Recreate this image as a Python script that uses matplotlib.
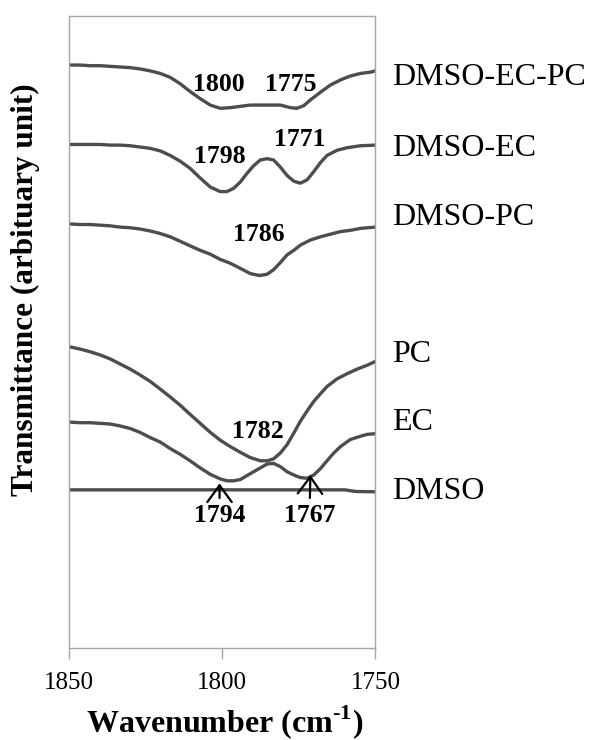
import matplotlib.pyplot as plt

plt.rcParams['font.family'] = 'Liberation Serif'
plt.rcParams['mathtext.fontset'] = 'custom'
plt.rcParams['mathtext.rm'] = 'Liberation Serif:bold'
plt.rcParams['mathtext.bf'] = 'Liberation Serif:bold'

# FTIR carbonyl region, curves stacked with an offset (arbitrary units)
wn_dmso_ec_pc = [1850, 1846.2, 1843.0, 1839.7, 1836.5, 1833.2, 1829.9, 1826.7, 1823.4, 1820.1, 1816.9,
                 1813.6, 1810.4, 1807.1, 1803.8, 1800.6, 1797.3, 1794.0, 1790.8, 1787.5, 1784.3, 1781.0,
                 1777.7, 1775.6, 1773.4, 1771.2, 1767.9, 1764.7, 1761.4, 1758.2, 1754.9, 1751.6, 1750]
t_dmso_ec_pc = [92.6, 92.6, 92.5, 92.5, 92.4, 92.3, 92.2, 92.0, 91.7, 91.3, 90.7,
                89.7, 88.5, 87.4, 86.4, 85.9, 86.0, 86.2, 86.4, 86.4, 86.4, 86.4,
                86.0, 85.9, 86.3, 87.2, 88.4, 89.5, 90.3, 90.9, 91.3, 91.5, 91.7]

wn_dmso_ec = [1850, 1846.2, 1843.0, 1839.7, 1836.5, 1833.2, 1829.9, 1826.7, 1823.4, 1820.1, 1816.9, 1813.6,
              1810.4, 1807.1, 1803.8, 1800.6, 1798.4, 1796.2, 1794.0, 1791.9, 1789.7, 1787.5, 1785.3, 1783.2,
              1781.0, 1778.8, 1776.6, 1774.5, 1772.3, 1770.1, 1767.9, 1765.8, 1762.5, 1759.2, 1754.9, 1750]
t_dmso_ec = [80.3, 80.3, 80.3, 80.3, 80.2, 80.2, 80.1, 79.9, 79.7, 79.3, 78.6, 77.7,
             76.6, 75.1, 73.7, 73.0, 73.0, 73.5, 74.5, 75.8, 77.0, 77.9, 78.1, 77.9,
             76.8, 75.5, 74.6, 74.3, 74.8, 76.1, 77.5, 78.6, 79.4, 79.8, 80.1, 80.2]

wn_dmso_pc = [1850, 1846.2, 1843.0, 1839.7, 1836.5, 1833.2, 1829.9, 1826.7, 1823.4, 1820.1, 1816.9,
              1813.6, 1810.4, 1807.1, 1803.8, 1800.6, 1797.3, 1794.0, 1790.8, 1787.8, 1785.3, 1783.2,
              1781.0, 1778.8, 1776.6, 1774.5, 1771.2, 1767.9, 1764.7, 1761.4, 1758.2, 1754.9, 1750]
t_dmso_pc = [68.0, 67.9, 67.9, 67.8, 67.7, 67.5, 67.4, 67.2, 66.9, 66.5, 66.0,
             65.3, 64.6, 63.9, 63.3, 62.5, 61.9, 61.1, 60.3, 60.0, 60.2, 60.9,
             62.0, 63.2, 63.9, 64.7, 65.5, 66.0, 66.4, 66.8, 67.0, 67.3, 67.5]

wn_pc = [1850, 1846.2, 1843.0, 1839.7, 1836.5, 1833.2, 1829.9, 1826.7, 1823.4, 1820.1, 1816.9, 1813.6,
         1810.4, 1807.1, 1803.8, 1800.6, 1797.3, 1794.0, 1790.8, 1787.5, 1785.3, 1783.2, 1781.0, 1778.8,
         1776.6, 1774.5, 1772.3, 1770.1, 1767.9, 1765.8, 1762.5, 1759.2, 1756.0, 1752.7, 1750]
t_pc = [49.0, 48.6, 48.2, 47.7, 47.1, 46.3, 45.5, 44.6, 43.6, 42.4, 41.2, 39.9,
        38.5, 37.1, 35.7, 34.5, 33.5, 32.6, 31.8, 31.3, 31.3, 31.6, 32.5, 33.8,
        35.6, 37.4, 39.0, 40.5, 41.7, 42.8, 44.0, 44.8, 45.5, 46.1, 46.7]

wn_ec = [1850, 1846.2, 1843.0, 1839.7, 1836.5, 1833.2, 1829.9, 1826.7, 1823.4, 1820.1, 1816.9, 1813.6, 1810.4,
         1807.1, 1803.8, 1800.6, 1798.4, 1796.2, 1794.0, 1791.9, 1789.7, 1787.5, 1785.3, 1783.2, 1781.0,
         1778.8, 1776.6, 1774.5, 1772.3, 1770.1, 1767.9, 1765.8, 1763.6, 1761.4, 1758.2, 1754.9, 1752.7, 1750]
t_ec = [37.3, 37.2, 37.2, 37.1, 37.0, 36.7, 36.3, 35.7, 34.9, 34.2, 33.2, 32.3, 31.3,
        30.2, 29.2, 28.5, 28.2, 28.2, 28.4, 29.0, 29.6, 30.2, 30.8, 30.9, 30.4,
        29.6, 29.1, 28.7, 28.6, 29.1, 30.1, 31.3, 32.5, 33.5, 34.6, 35.1, 35.4, 35.5]

wn_dmso = [1850, 1825, 1800, 1775, 1760.0, 1756.5, 1750]
t_dmso = [26.8, 26.8, 26.8, 26.8, 26.8, 26.55, 26.5]

names = ['DMSO-EC-PC', 'DMSO-EC', 'DMSO-PC', 'PC', 'EC', 'DMSO']
wns = [wn_dmso_ec_pc, wn_dmso_ec, wn_dmso_pc, wn_pc, wn_ec, wn_dmso]
ts = [t_dmso_ec_pc, t_dmso_ec, t_dmso_pc, t_pc, t_ec, t_dmso]
name_y = [90.6, 79.7, 69.0, 47.7, 37.2, 26.5]

# peak labels: text, x, y
peak_text = ['1800', '1775', '1798', '1771', '1786', '1782']
peak_x = [1800.9, 1777.7, 1800.8, 1774.7, 1788.1, 1788.4]
peak_y = [89.6, 89.6, 78.5, 81.1, 66.3, 35.8]

# arrowed labels for EC: text, label position, arrow tip on the curve
arrow_text = ['1794', '1767']
arrow_label_x = [1800.8, 1771.5]
arrow_label_y = [22.9, 22.9]
arrow_tip_x = [1800.8, 1771.2]
arrow_tip_y = [27.8, 29.1]

frame = '#a6a6a6'
line = '#4d4d4d'

fig = plt.figure(figsize=(5.89, 7.40), dpi=100)
ax = fig.add_axes([0.1163, 0.1243, 0.5212, 0.8541])

for name, x, y, ny in zip(names, wns, ts, name_y):
    ax.plot(x, y, color=line, lw=2.4, solid_capstyle='round', solid_joinstyle='round')
    ax.text(1744.5, ny, name, fontsize=23, ha='left', va='center', clip_on=False)

for s, x, y in zip(peak_text, peak_x, peak_y):
    ax.text(x, y, s, fontsize=18.5, fontweight='bold', ha='center', va='center')

for s, lx, ly, tx, ty in zip(arrow_text, arrow_label_x, arrow_label_y, arrow_tip_x, arrow_tip_y):
    ax.annotate(s, xy=(tx, ty), xytext=(lx, ly), fontsize=18.5, fontweight='bold',
                ha='center', va='center',
                arrowprops=dict(arrowstyle='->,head_length=0.55,head_width=0.4', color='black',
                                lw=1.6, mutation_scale=22, shrinkA=2, shrinkB=0))

ax.set_xlim(1850, 1750)
ax.set_ylim(2.3, 100.2)
ax.set_xticks([1850, 1800, 1750])
ax.set_yticks([])
ax.tick_params(axis='x', direction='out', length=8, width=1, color=frame, labelsize=18, pad=9)
for sp in ax.spines.values():
    sp.set_color(frame)
    sp.set_linewidth(1)

fig.text(0.044, 0.608, 'Transmittance (arbituary unit)', rotation=90, fontsize=22.5,
         fontweight='bold', ha='center', va='center')
fig.text(0.382, 0.024, r'Wavenumber (cm$^{\text{-1}}$)', fontsize=23, fontweight='bold',
         ha='center', va='center')

fig.savefig('out.png', dpi=100)
